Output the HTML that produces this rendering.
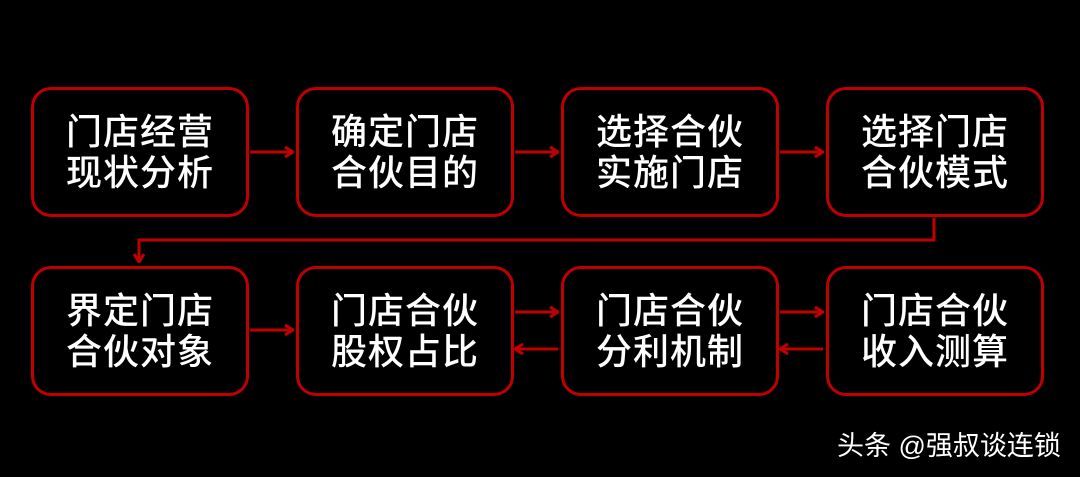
<!DOCTYPE html>
<html><head><meta charset="utf-8"><style>
body{margin:0;width:1080px;height:477px;background:#000;overflow:hidden;position:relative;font-family:"Liberation Sans","Noto Sans CJK SC",sans-serif}
.b{position:absolute;width:212px;height:124px;border:3px solid #c00000;border-radius:20px;color:#fff;font-size:36px;line-height:41px;display:flex;align-items:center;justify-content:center;text-align:center;letter-spacing:1px;box-sizing:content-box;font-weight:500}
.w{position:absolute;left:837px;top:430px;color:#fff;font-size:27px;line-height:32px;white-space:nowrap}
</style></head><body>
<svg width="1080" height="477" style="position:absolute;left:0;top:0">
<defs><marker id="a" markerWidth="10" markerHeight="12" refX="9" refY="6" orient="auto" markerUnits="userSpaceOnUse"><path d="M1,1 L9,6 L1,11" fill="none" stroke="#c00000" stroke-width="3"/></marker></defs>
<g stroke="#c00000" stroke-width="3" fill="none">
<line x1="250" y1="152" x2="293" y2="152" marker-end="url(#a)"/>
<line x1="515" y1="152" x2="558" y2="152" marker-end="url(#a)"/>
<line x1="780" y1="152" x2="823" y2="152" marker-end="url(#a)"/>
<polyline points="934,218 934,240 139,240 139,262" marker-end="url(#a)"/>
<line x1="250" y1="330" x2="293" y2="330" marker-end="url(#a)"/>
<line x1="515" y1="312" x2="558" y2="312" marker-end="url(#a)"/>
<line x1="558" y1="349" x2="515" y2="349" marker-end="url(#a)"/>
<line x1="780" y1="312" x2="823" y2="312" marker-end="url(#a)"/>
<line x1="823" y1="349" x2="780" y2="349" marker-end="url(#a)"/>
</g></svg>
<div class="b" style="left:31px;top:87px">门店经营<br>现状分析</div>
<div class="b" style="left:296px;top:87px">确定门店<br>合伙目的</div>
<div class="b" style="left:561px;top:87px">选择合伙<br>实施门店</div>
<div class="b" style="left:826px;top:87px">选择门店<br>合伙模式</div>
<div class="b" style="left:31px;top:266px">界定门店<br>合伙对象</div>
<div class="b" style="left:296px;top:266px">门店合伙<br>股权占比</div>
<div class="b" style="left:561px;top:266px">门店合伙<br>分利机制</div>
<div class="b" style="left:826px;top:266px">门店合伙<br>收入测算</div>
<div class="w">头条 @强叔谈连锁</div>
</body></html>
